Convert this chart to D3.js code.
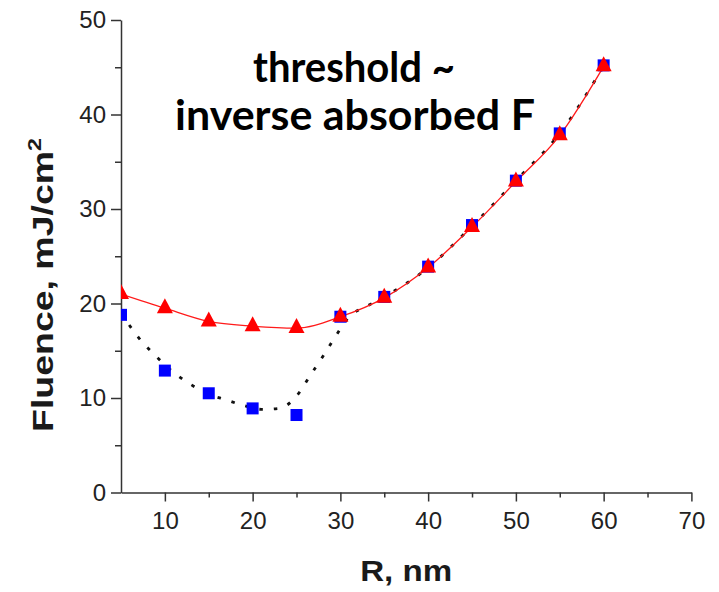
<!DOCTYPE html>
<html>
<head>
<meta charset="utf-8">
<script src="https://cdn.jsdelivr.net/npm/d3@7"></script>
<style>
  html, body { margin: 0; padding: 0; background: #fff; }
  svg { display: block; }
</style>
</head>
<body>
<script>
// ---- data ----
const radius = [5, 10, 15, 20, 25, 30, 35, 40, 45, 50, 55, 60];
const fluenceTriangles = [21.0, 19.5, 18.1, 17.6, 17.4, 18.6, 20.6, 23.8, 28.1, 32.9, 37.8, 45.1];
const fluenceSquares   = [18.8, 12.9, 10.5, 8.9, 8.2, 18.6, 20.7, 23.9, 28.3, 33.0, 38.0, 45.2];
const curveR = [5, 7, 9, 11, 13, 15, 17, 19, 21, 23, 25, 26.5, 28, 29.5, 31, 33, 35, 40, 45, 50, 55, 60];
const curveF = [19.0, 16.4, 14.4, 12.7, 11.4, 10.4, 9.8, 9.2, 8.8, 8.9, 10.2, 12.3, 14.4, 16.6, 18.6, 19.7, 20.7, 23.8, 28.2, 33.0, 38.0, 45.1];
const xMajorTicks = [10, 20, 30, 40, 50, 60, 70];
const xMinorTicks = [15, 25, 35, 45, 55, 65];
const yMajorTicks = [0, 10, 20, 30, 40, 50];
const yMinorTicks = [5, 15, 25, 35, 45];
const titleLines = ["threshold ~", "inverse absorbed F"];
const xLabel = "R, nm";
const yLabel = "Fluence, mJ/cm";
const yLabelSup = "2";

// ---- layout ----
const W = 719, H = 592;
const svg = d3.select("body").append("svg").attr("width", W).attr("height", H);

const x = d3.scaleLinear().domain([5, 70]).range([121, 691.4]);
const y = d3.scaleLinear().domain([0, 50]).range([492.5, 20]);

const axisColor = "#333";
const tickFont = "'Liberation Sans', Arial, sans-serif";

// clip
svg.append("defs").append("clipPath").attr("id", "plotclip")
  .append("rect").attr("x", x(5)).attr("y", 0).attr("width", x(70) - x(5) + 20).attr("height", y(0));

// axes
function styleAxis(g) {
  g.selectAll("path.domain").attr("stroke", axisColor).attr("stroke-width", 1.5);
  g.selectAll(".tick line").attr("stroke", axisColor).attr("stroke-width", 1.5);
  g.selectAll(".tick text").attr("fill", "#222").style("font-family", tickFont).style("font-size", "24px");
}
const gx = svg.append("g").attr("transform", `translate(0,${y(0)})`)
  .call(d3.axisBottom(x).tickValues(xMajorTicks).tickSize(9).tickSizeOuter(0).tickPadding(10).tickFormat(d3.format("d")));
styleAxis(gx);
const gxm = svg.append("g").attr("transform", `translate(0,${y(0)})`)
  .call(d3.axisBottom(x).tickValues(xMinorTicks).tickSize(5).tickSizeOuter(0).tickFormat(""));
styleAxis(gxm);
gxm.select("path.domain").remove();

const gy = svg.append("g").attr("transform", `translate(${x(5)},0)`)
  .call(d3.axisLeft(y).tickValues(yMajorTicks).tickSize(10).tickSizeOuter(0).tickPadding(5).tickFormat(d3.format("d")));
styleAxis(gy);
const gym = svg.append("g").attr("transform", `translate(${x(5)},0)`)
  .call(d3.axisLeft(y).tickValues(yMinorTicks).tickSize(6).tickSizeOuter(0).tickFormat(""));
styleAxis(gym);
gym.select("path.domain").remove();

// plot content
const plot = svg.append("g").attr("clip-path", "url(#plotclip)");

const curvePts = curveR.map((r, i) => [r, curveF[i]]);
plot.append("path")
  .datum(curvePts)
  .attr("fill", "none")
  .attr("stroke", "#111")
  .attr("stroke-width", 2.8)
  .attr("stroke-dasharray", "3.5 11")
  .attr("d", d3.line().x(d => x(d[0])).y(d => y(d[1])).curve(d3.curveMonotoneX));

const triPts = radius.map((r, i) => [r, fluenceTriangles[i]]);
plot.append("path")
  .datum(triPts)
  .attr("fill", "none")
  .attr("stroke", "#ff1a1a")
  .attr("stroke-width", 1.3)
  .attr("d", d3.line().x(d => x(d[0])).y(d => y(d[1])).curve(d3.curveMonotoneX));

const sqPts = radius.map((r, i) => [r, fluenceSquares[i]]);
const sq = 12;
plot.selectAll("rect.sq").data(sqPts).join("rect")
  .attr("class", "sq")
  .attr("x", d => x(d[0]) - sq / 2)
  .attr("y", d => y(d[1]) - sq / 2)
  .attr("width", sq).attr("height", sq)
  .attr("fill", "#0000ff");

// triangle: width 16, height 15, centred on centroid
const tw = 16, th = 15;
const triPath = `M0,${-2 * th / 3}L${tw / 2},${th / 3}L${-tw / 2},${th / 3}Z`;
plot.selectAll("path.tri").data(triPts).join("path")
  .attr("class", "tri")
  .attr("transform", d => `translate(${x(d[0])},${y(d[1])})`)
  .attr("d", triPath)
  .attr("fill", "#ff0000");

// title
const titleFont = "Lato, 'Open Sans', sans-serif";
const titleBaselines = [82, 130];
const titleWidths = [202, 360];
const titleCenters = [354, 355];
titleLines.forEach((t, i) => {
  svg.append("text")
    .attr("x", titleCenters[i]).attr("y", titleBaselines[i])
    .attr("text-anchor", "middle")
    .attr("textLength", titleWidths[i])
    .attr("lengthAdjust", "spacingAndGlyphs")
    .style("font-family", titleFont)
    .style("font-weight", "bold")
    .style("font-size", "42px")
    .attr("fill", "#000")
    .text(t);
});

// x label
svg.append("text")
  .attr("x", (x(5) + x(70)) / 2).attr("y", 581)
  .attr("text-anchor", "middle")
  .attr("textLength", 92)
  .attr("lengthAdjust", "spacingAndGlyphs")
  .style("font-family", tickFont).style("font-weight", "bold").style("font-size", "29px")
  .attr("fill", "#1a1a1a")
  .text(xLabel);

// y label
const yl = svg.append("text")
  .attr("transform", `translate(53,285) rotate(-90)`)
  .attr("text-anchor", "middle")
  .attr("textLength", 294)
  .attr("lengthAdjust", "spacingAndGlyphs")
  .style("font-family", tickFont).style("font-weight", "bold").style("font-size", "29px")
  .attr("fill", "#1a1a1a");
yl.append("tspan").text(yLabel);
yl.append("tspan").attr("dy", -12).style("font-size", "18px").text(yLabelSup);
</script>
</body>
</html>
